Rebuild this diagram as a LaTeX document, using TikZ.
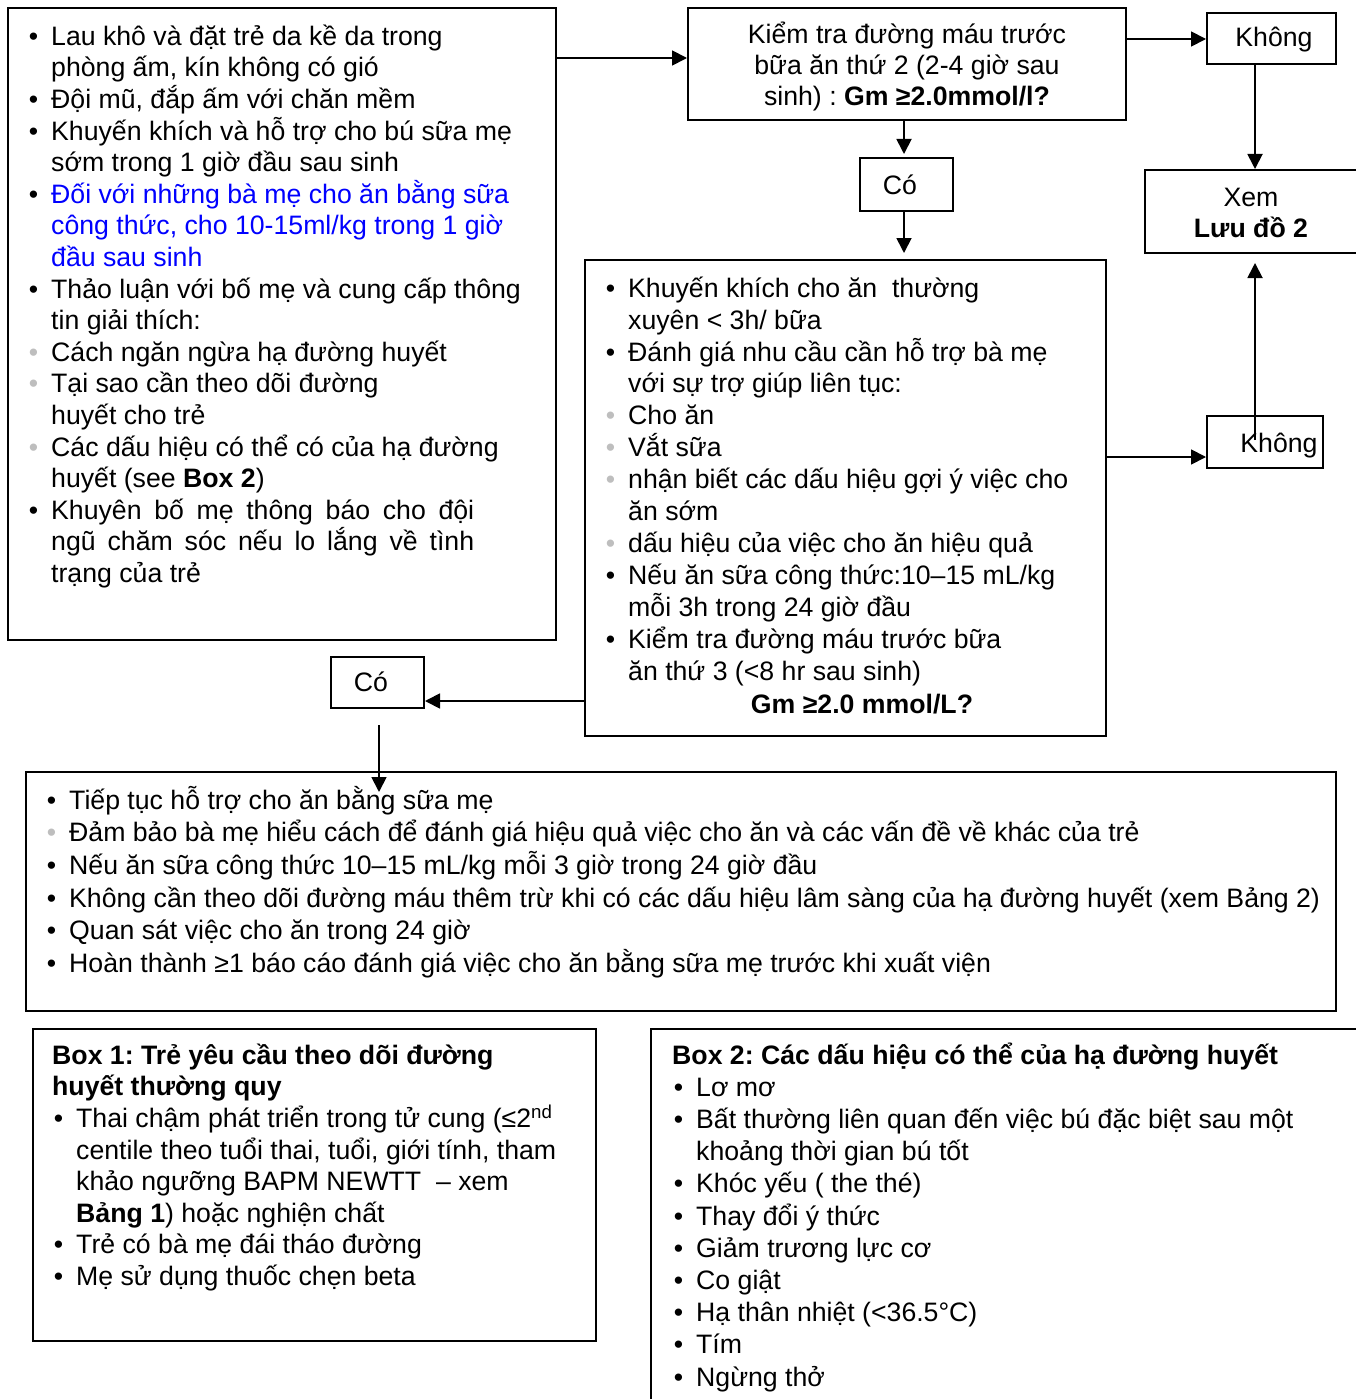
\documentclass[tikz,border=0pt]{standalone}
\usepackage{fontspec}
\setmainfont{Liberation Sans}
\usetikzlibrary{arrows.meta}
\definecolor{bulletgrey}{RGB}{190,190,190}
\definecolor{noteblue}{RGB}{0,0,255}
\frenchspacing
% list bullets hanging to the left of the text column
\newcommand\bulk{\llap{\textbullet\hspace{13pt}}}
\newcommand\bulg{\llap{\textcolor{bulletgrey}{\textbullet}\hspace{13pt}}}
\newcommand\firstline{\rule{0pt}{26pt}}
\newcommand\lsize[1]{\fontsize{26.67}{#1}\selectfont\lineskiplimit=-100pt\lineskip=0pt}
\begin{document}
\begin{tikzpicture}[x=1pt,y=-1pt,
  box/.style={draw, line width=2pt, inner sep=0, minimum width=#1},
  txt/.style={anchor=north west, inner sep=0, align=left},
  lbl/.style={anchor=base, inner sep=0, font=\lsize{31}},
  arr/.style={line width=1.8pt, -{Triangle[length=15pt,width=15pt]}}]
\useasboundingbox (0,0) rectangle (1356,1399);
\clip (0,0) rectangle (1356,1399);

% ---------- boxes ----------
\node[box=548, minimum height=632] (care)  at (282,324) {};
\node[box=438, minimum height=112] (check2) at (907,64) {};
\node[box=129, minimum height=51]  (no1)  at (1271.5,38.5) {};
\node[box=213, minimum height=83]  (see)  at (1251.5,211.5) {};
\node[box=93,  minimum height=53]  (yes1) at (906.5,184.5) {};
\node[box=521, minimum height=476] (feed) at (845.5,498) {};
\node[box=116, minimum height=52]  (no2)  at (1265,442) {};
\node[box=93,  minimum height=51]  (yes2) at (377.5,682.5) {};
\node[box=1310,minimum height=239] (cont) at (681,891.5) {};
\node[box=563, minimum height=312] (boxone) at (314.5,1185) {};
\node[box=720, minimum height=420] (boxtwo) at (1011,1239) {};

% ---------- texts ----------
\node[txt, font=\lsize{31.6}] (careText) at (51,19) {\firstline\bulk Lau khô và đặt trẻ da kề da trong\\
phòng ấm, kín không có gió\\
\bulk Đội mũ, đắp ấm với chăn mềm\\
\bulk Khuyến khích và hỗ trợ cho bú sữa mẹ\\
sớm trong 1 giờ đầu sau sinh\\
\bulk\textcolor{noteblue}{Đối với những bà mẹ cho ăn bằng sữa}\\
\textcolor{noteblue}{công thức, cho 10-15ml/kg trong 1 giờ}\\
\textcolor{noteblue}{đầu sau sinh}\\
\bulk Thảo luận với bố mẹ và cung cấp thông\\
tin giải thích:\\
\bulg Cách ngăn ngừa hạ đường huyết\\
\bulg Tại sao cần theo dõi đường\\
huyết cho trẻ\\
\bulg Các dấu hiệu có thể có của hạ đường\\
huyết (see \textbf{Box 2})\\
\bulk\makebox[423pt][s]{Khuyên bố mẹ thông báo cho đội}\\
\makebox[423pt][s]{ngũ chăm sóc nếu lo lắng về tình}\\
trạng của trẻ};

\node[anchor=north, inner sep=0, align=center, font=\lsize{31}] (check2Text) at (907,17)
 {\firstline Kiểm tra đường máu trước\\
 bữa ăn thứ 2 (2-4 giờ sau\\
 sinh) : \textbf{Gm ≥2.0mmol/l?}};

\node[lbl] (no1Text) at (1274,47) {Không};
\node[anchor=north, inner sep=0, align=center, font=\lsize{31}] (seeText) at (1251,180)
 {\firstline Xem\\ \textbf{Lưu đồ 2}};
\node[lbl] (yes1Text) at (900,195) {Có};
\node[lbl] (no2Text) at (1279,452) {Không};
\node[lbl] (yes2Text) at (371,691) {Có};

\node[txt, font=\lsize{31.9}] (feedText) at (628,271) {\firstline\bulk Khuyến khích cho ăn\ \ thường\\
xuyên < 3h/ bữa\\
\bulk Đánh giá nhu cầu cần hỗ trợ bà mẹ\\
với sự trợ giúp liên tục:\\
\bulg Cho ăn\\
\bulg Vắt sữa\\
\bulg nhận biết các dấu hiệu gợi ý việc cho\\
ăn sớm\\
\bulg dấu hiệu của việc cho ăn hiệu quả\\
\bulk Nếu ăn sữa công thức:10–15 mL/kg\\
mỗi 3h trong 24 giờ đầu\\
\bulk Kiểm tra đường máu trước bữa\\
ăn thứ 3 (<8 hr sau sinh)};
\node[lbl, font=\lsize{31}\bfseries] (feedQ) at (862,713) {Gm ≥2.0 mmol/L?};

\node[txt, font=\lsize{32.6}] (contText) at (69,783) {\firstline\bulk Tiếp tục hỗ trợ cho ăn bằng sữa mẹ\\
\bulg Đảm bảo bà mẹ hiểu cách để đánh giá hiệu quả việc cho ăn và các vấn đề về khác của trẻ\\
\bulk Nếu ăn sữa công thức 10–15 mL/kg mỗi 3 giờ trong 24 giờ đầu\\
\bulk Không cần theo dõi đường máu thêm trừ khi có các dấu hiệu lâm sàng của hạ đường huyết (xem Bảng 2)\\
\bulk Quan sát việc cho ăn trong 24 giờ\\
\bulk Hoàn thành ≥1 báo cáo đánh giá việc cho ăn bằng sữa mẹ trước khi xuất viện};

\node[txt, font=\lsize{31.6}\bfseries] (boxoneTitle) at (52,1038)
 {\firstline Box 1: Trẻ yêu cầu theo dõi đường\\ huyết thường quy};
\node[txt, font=\lsize{31.6}] (boxoneText) at (76,1101.2) {\firstline\bulk Thai chậm phát triển trong tử cung (≤2\textsuperscript{nd}\\
centile theo tuổi thai, tuổi, giới tính, tham\\
khảo ngưỡng BAPM NEWTT\ \ – xem\\
\textbf{Bảng 1}) hoặc nghiện chất\\
\bulk Trẻ có bà mẹ đái tháo đường\\
\bulk Mẹ sử dụng thuốc chẹn beta};

\node[txt, font=\lsize{31.6}\bfseries] (boxtwoTitle) at (672,1038)
 {\firstline Box 2: Các dấu hiệu có thể của hạ đường huyết};
\node[txt, font=\lsize{32.2}] (boxtwoText) at (696,1070) {\firstline\bulk Lơ mơ\\
\bulk Bất thường liên quan đến việc bú đặc biệt sau một\\
khoảng thời gian bú tốt\\
\bulk Khóc yếu ( the thé)\\
\bulk Thay đổi ý thức\\
\bulk Giảm trương lực cơ\\
\bulk Co giật\\
\bulk Hạ thân nhiệt (<36.5°C)\\
\bulk Tím\\
\bulk Ngừng thở};

% ---------- connectors ----------
\coordinate (no2in) at (1255,440);
\coordinate (yes2out) at (379,725);
\coordinate (contin) at (379,792);
\draw[arr] (care.east |- 0,58) -- (check2.west |- 0,58);
\draw[arr] (check2.east |- 0,39) -- (no1.west |- 0,39);
\draw[arr] (no1.south -| 1255,0) -- (see.north -| 1255,0);
\draw[arr] (check2.south -| 904,0) -- ([yshift=3pt]yes1.north -| 904,0);
\draw[arr] (yes1.south -| 904,0) -- ([yshift=6pt]feed.north -| 904,0);
\draw[arr] (feed.east |- 0,457) -- (no2.west |- 0,457);
\draw[arr] (no2in) -- ([yshift=-9pt]see.south -| 1255,0);
\draw[arr] (feed.west |- 0,701) -- (yes2.east |- 0,701);
\draw[arr] (yes2out) -- (contin);
\end{tikzpicture}
\end{document}
